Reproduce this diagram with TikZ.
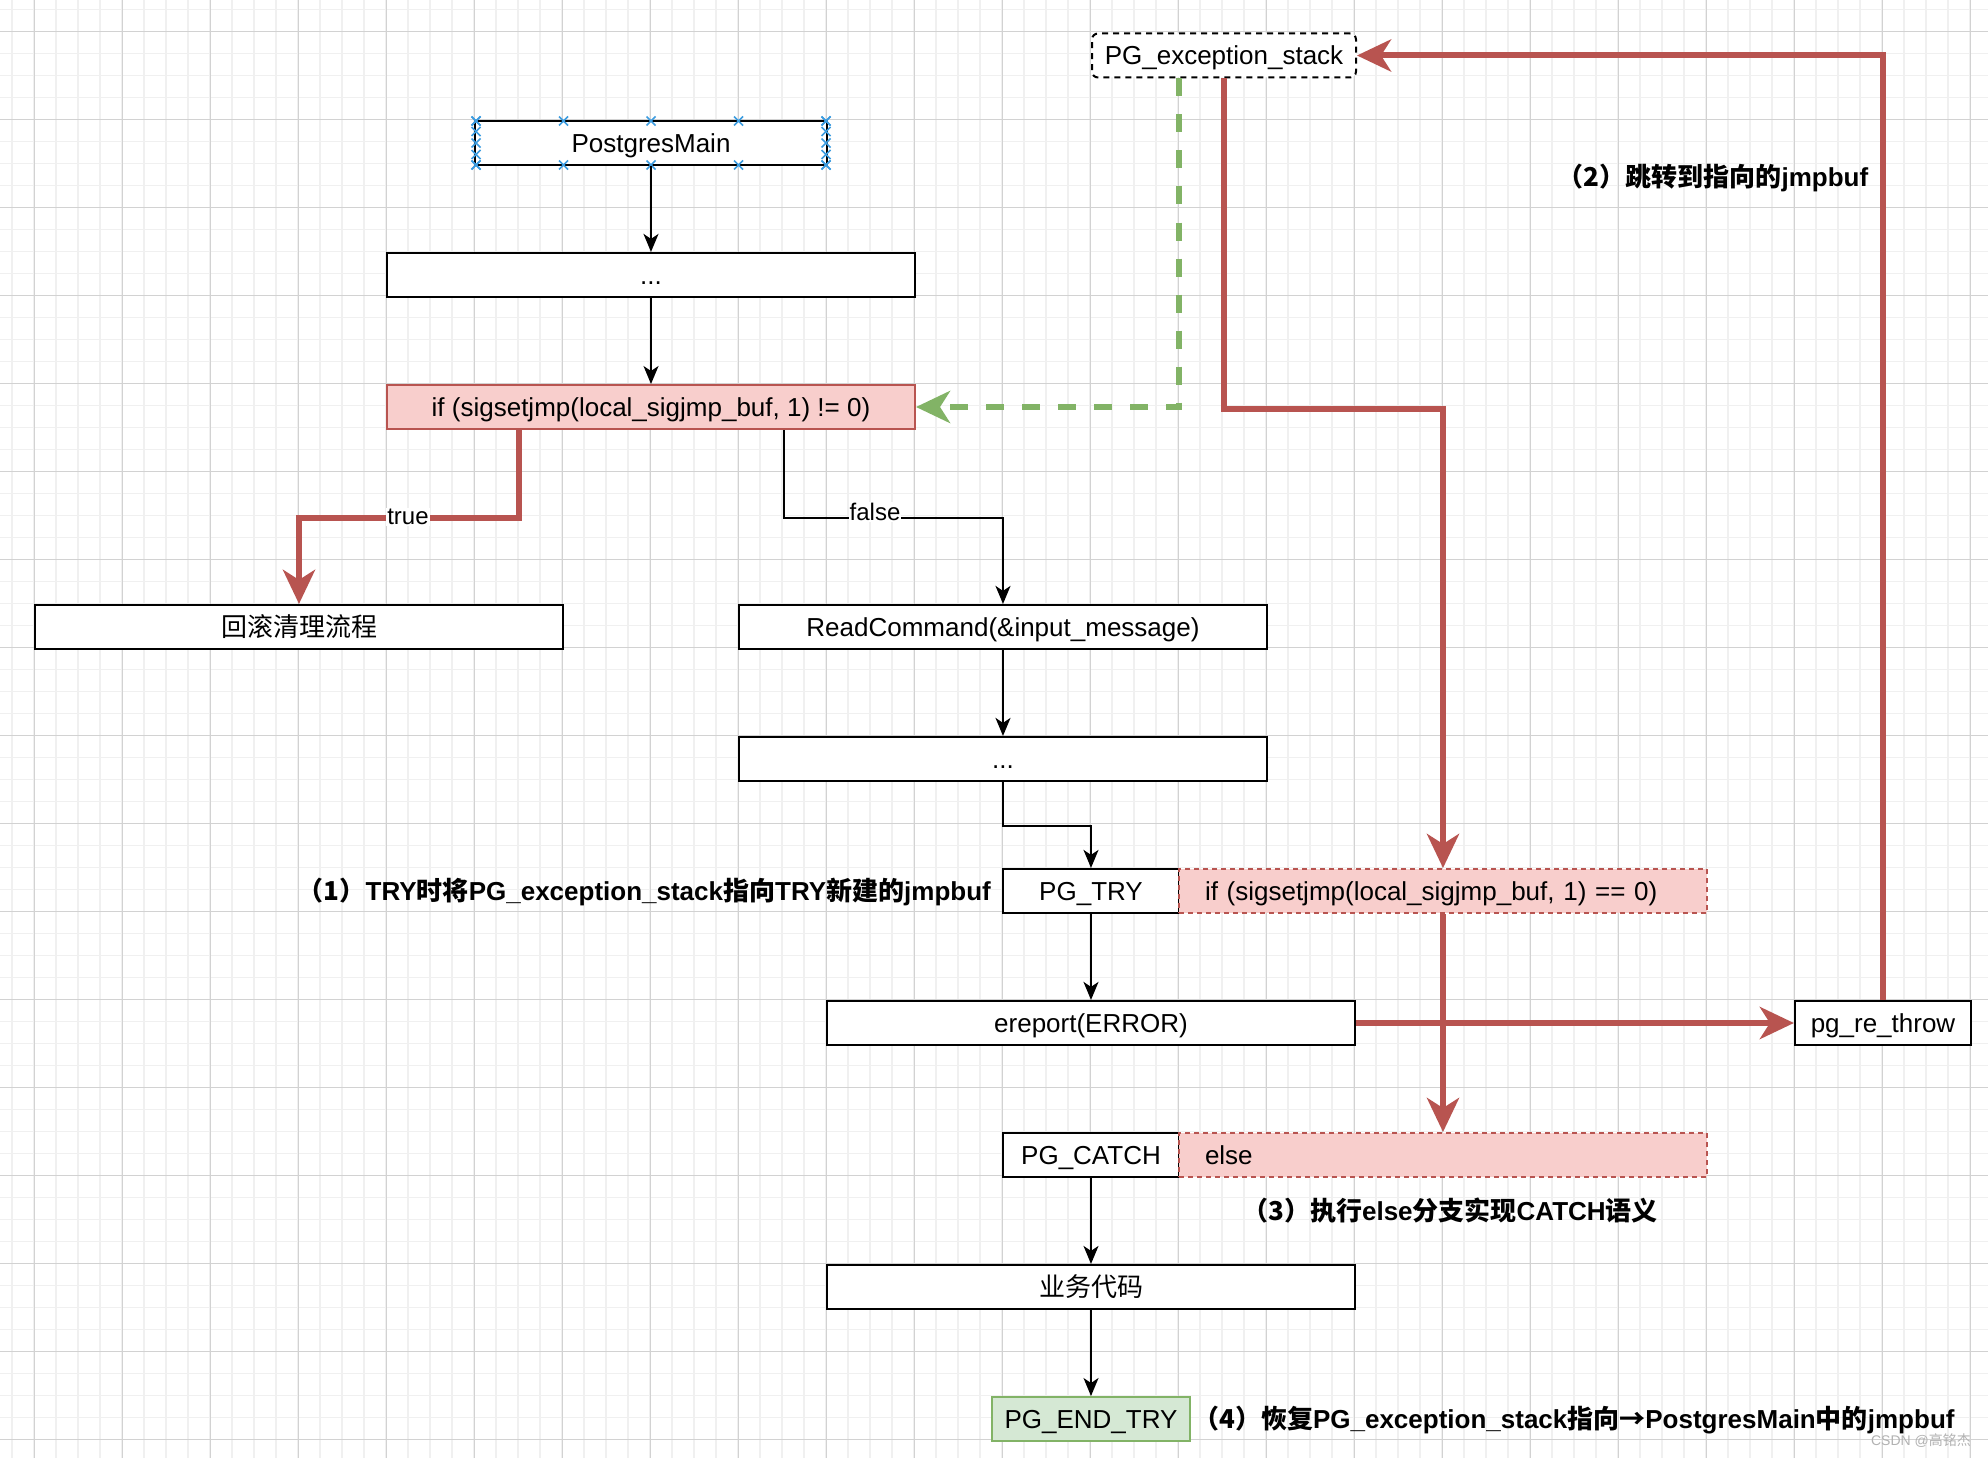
\documentclass[tikz,border=0pt]{standalone}
\usepackage{fontspec}
\setmainfont{Liberation Sans}
\newfontfamily\cjk{Noto Sans CJK SC}
\usetikzlibrary{arrows.meta}
\definecolor{redS}{HTML}{B85450}
\definecolor{pinkF}{HTML}{F8CECC}
\definecolor{greenS}{HTML}{82B366}
\definecolor{greenF}{HTML}{D5E8D4}
\definecolor{gridMin}{HTML}{F0F0F0}
\definecolor{gridMaj}{HTML}{D2D2D2}
\definecolor{selBlue}{HTML}{3C9CE0}
\begin{document}
\begin{tikzpicture}[x=1pt,y=-1pt,
  every node/.style={font=\fontsize{26}{30}\selectfont, text=black},
  tx/.style={text height=19pt, text depth=0pt},
  box/.style={tx, draw=black, line width=2.2pt, fill=white, minimum height=44pt, inner sep=0pt},
  pinkbox/.style={tx, draw=redS, line width=2pt, fill=pinkF, minimum height=44pt, inner sep=0pt},
  pinkdash/.style={tx, draw=redS, line width=2pt, fill=pinkF, minimum height=44pt, dash pattern=on 5pt off 4pt,
     inner xsep=26pt, inner ysep=0pt, text width=476pt, align=left},
  stackbox/.style={tx, draw=black, line width=2pt, fill=white, minimum height=44pt, dash pattern=on 6pt off 5pt, rounded corners=6pt, inner sep=0pt},
  endbox/.style={tx, draw=greenS, line width=2pt, fill=greenF, minimum height=44pt, inner sep=0pt},
  note/.style={tx, font=\fontsize{26}{30}\selectfont\bfseries, inner sep=0pt},
  elabel/.style={font=\fontsize{24}{28}\selectfont, fill=white, inner sep=1pt},
  blk/.style={draw=black, line width=2pt, -{Stealth[length=18pt,width=15pt,inset=5pt]}},
  redarr/.style={draw=redS, line width=6pt, -{Stealth[length=34pt,width=32pt,inset=10pt]}},
  greenarr/.style={draw=greenS, line width=6pt, dash pattern=on 18pt off 18pt, -{Stealth[length=34pt,width=32pt,inset=10pt]}},
  gmin/.style={draw=gridMin, line width=1.2pt},
  gmaj/.style={draw=gridMaj, line width=0.9pt},
  sel/.style={draw=selBlue, line width=1.5pt}
]
\useasboundingbox (0,0) rectangle (1988,1458);
\fill[white] (0,0) rectangle (1988,1458);
% grid
\foreach \i in {0,...,90} { \draw[gmin] ({12+22*\i},0) -- ({12+22*\i},1458); }
\foreach \j in {0,...,66} { \draw[gmin] (0,{9.3+22*\j}) -- (1988,{9.3+22*\j}); }
\foreach \i in {0,...,22} { \draw[gmaj] ({34+88*\i},0) -- ({34+88*\i},1458); }
\foreach \j in {0,...,16} { \draw[gmaj] (0,{31.3+88*\j}) -- (1988,{31.3+88*\j}); }

% nodes
\node[box, minimum width=352pt] (pm) at (651,143) {PostgresMain};
\node[box, minimum width=528pt] (d1) at (651,275) {...};
\node[pinkbox, minimum width=528pt] (if) at (651,407) {if (sigsetjmp(local\_sigjmp\_buf, 1) != 0)};
\node[box, minimum width=528pt] (rb) at (299,627) {\cjk 回滚清理流程};
\node[box, minimum width=528pt] (rc) at (1003,627) {ReadCommand(\&input\_message)};
\node[box, minimum width=528pt] (d2) at (1003,759) {...};
\node[box, minimum width=176pt] (try) at (1091,891) {PG\_TRY};
\node[pinkdash] (p1) at (1443,891) {if (sigsetjmp(local\_sigjmp\_buf, 1) == 0)};
\node[box, minimum width=528pt] (er) at (1091,1023) {ereport(ERROR)};
\node[box, minimum width=176pt] (rt) at (1883,1023) {pg\_re\_throw};
\node[box, minimum width=176pt] (catch) at (1091,1155) {PG\_CATCH};
\node[pinkdash] (els) at (1443,1155) {else};
\node[box, minimum width=528pt] (biz) at (1091,1287) {\cjk 业务代码};
\node[endbox, minimum width=198pt] (end) at (1091,1419) {PG\_END\_TRY};
\node[stackbox, minimum width=264pt] (pges) at (1224,55.5) {PG\_exception\_stack};

% selection marks on PostgresMain
\foreach \x in {476,563.5,651,738.5,826} {
  \draw[sel] ({\x-4.5},116.5) -- ({\x+4.5},125.5) ({\x-4.5},125.5) -- ({\x+4.5},116.5);
  \draw[sel] ({\x-4.5},160.5) -- ({\x+4.5},169.5) ({\x-4.5},169.5) -- ({\x+4.5},160.5);
}
\foreach \y in {121,131.5,143,154.5,165} {
  \draw[sel] (471.5,{\y-4.5}) -- (480.5,{\y+4.5}) (471.5,{\y+4.5}) -- (480.5,{\y-4.5});
  \draw[sel] (821.5,{\y-4.5}) -- (830.5,{\y+4.5}) (821.5,{\y+4.5}) -- (830.5,{\y-4.5});
}

% connectors
\draw[blk] (pm.south) -- (d1.north);
\draw[blk] (d1.south) -- (if.north);
\draw[redarr] ([xshift=-132pt]if.south) -- ++(0,88) -| (rb.north);
\draw[blk] ([xshift=132.6pt]if.south) -- ++(0,88) -| (rc.north);
\draw[blk] (rc.south) -- (d2.north);
\draw[blk] (d2.south) -- ++(0,44) -| (try.north);
\draw[blk] (try.south) -- (er.north);
\draw[blk] (catch.south) -- (biz.north);
\draw[blk] (biz.south) -- (end.north);
\draw[greenarr] ([xshift=-45pt]pges.south) |- (if.east);
\draw[redarr] (pges.south) -- ++(0,330) -| (p1.north);
\draw[redarr] (er.east) -- (rt.west);
\draw[redarr] (p1.south) -- (els.north);
\draw[redarr] (rt.north) |- (pges.east);

% edge labels
\node[elabel] (ltrue) at (408,517) {true};
\node[elabel] (lfalse) at (875,512) {false};

% notes
\node[note, anchor=east] (n1) at (991,891) {{\cjk （1）}TRY{\cjk 时将}PG\_exception\_stack{\cjk 指向}TRY{\cjk 新建的}jmpbuf};
\node[note] (n2) at (1713,177) {{\cjk （2）跳转到指向的}jmpbuf};
\node[note] (n3) at (1450,1211) {{\cjk （3）执行}else{\cjk 分支实现}CATCH{\cjk 语义}};
\node[note, anchor=west] (n4) at (1193,1419) {{\cjk （4）恢复}PG\_exception\_stack{\cjk 指向→}PostgresMain{\cjk 中的}jmpbuf};
\node[font=\fontsize{14}{16}\selectfont, text=black!30, inner sep=0pt] (wm) at (1921,1441) {CSDN @{\cjk 高铭杰}};
\end{tikzpicture}
\end{document}
